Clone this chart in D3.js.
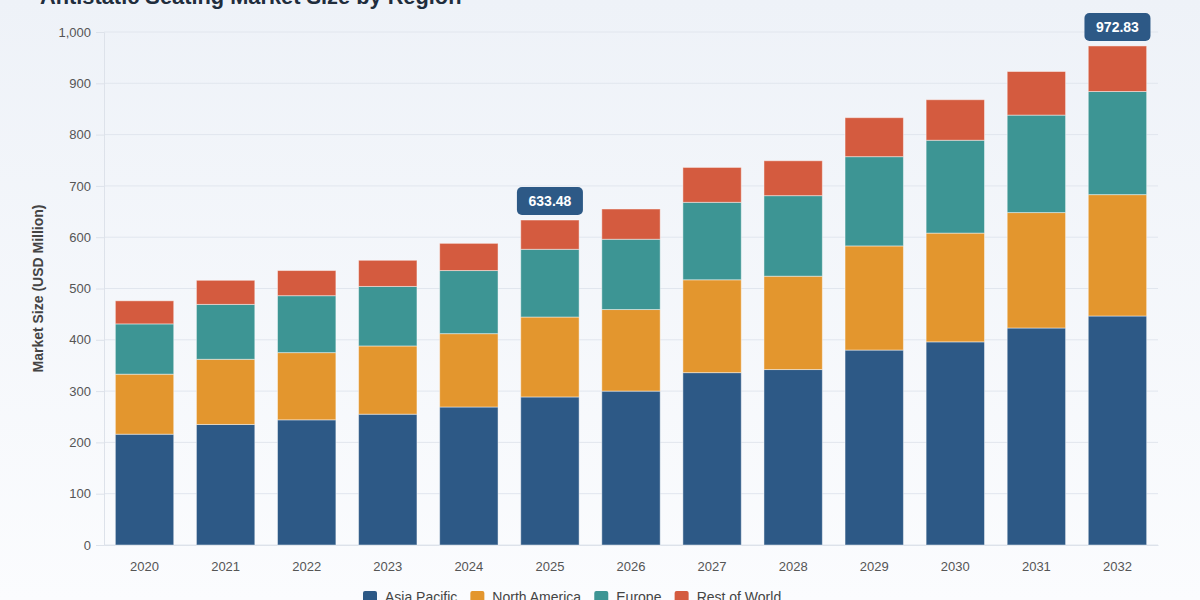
<!DOCTYPE html>
<html>
<head>
<meta charset="utf-8">
<script src="https://cdn.jsdelivr.net/npm/d3@7"></script>
<style>
  html, body { margin: 0; padding: 0; }
  body { width: 1200px; height: 600px; overflow: hidden; font-family: "Liberation Sans", Arial, sans-serif; }
</style>
</head>
<body>
<svg id="chart" width="1200" height="600"></svg>
<script>
// data
const years = ["2020","2021","2022","2023","2024","2025","2026","2027","2028","2029","2030","2031","2032"];
const regions = ["Asia Pacific","North America","Europe","Rest of World"];
const asiaPacific  = [216, 235, 244, 255, 269, 288.6, 300, 336, 342, 380, 396, 423, 446.4];
const northAmerica = [117, 127, 131, 133, 143, 155.8, 159, 181, 182, 203, 212, 225, 236.6];
const europe       = [98, 107, 111, 116, 123, 132.0, 137, 151, 157, 174, 181, 190, 201];
const restOfWorld  = [45, 47, 49, 51, 53, 57.08, 59, 68, 68, 76, 79, 85, 88.83];
const yTicks = [0,100,200,300,400,500,600,700,800,900,1000];
const labelledYears = ["2025","2032"];

const colors = ["#2d5986", "#e3962e", "#3d9594", "#d45b3f"];

const svg = d3.select("#chart");
const W = 1200, H = 600;
const margin = {top: 32, right: 42, bottom: 55, left: 104};

// background
const defs = svg.append("defs");
const grad = defs.append("linearGradient").attr("id","bg").attr("x1",0).attr("y1",0).attr("x2",0).attr("y2",1);
grad.append("stop").attr("offset","0%").attr("stop-color","#eef2f8");
grad.append("stop").attr("offset","100%").attr("stop-color","#fbfcfe");
svg.append("rect").attr("width",W).attr("height",H).attr("fill","url(#bg)");

// stack the series
const table = years.map((y,i) => ({
  year: y,
  "Asia Pacific": asiaPacific[i],
  "North America": northAmerica[i],
  "Europe": europe[i],
  "Rest of World": restOfWorld[i]
}));
const stacked = d3.stack().keys(regions)(table);

const x = d3.scaleBand().domain(years).range([margin.left, W - margin.right]).paddingInner(0.28).paddingOuter(0.14);
const y = d3.scaleLinear().domain([0,1000]).range([H - margin.bottom, margin.top]);

// gridlines
svg.append("g").selectAll("line").data(yTicks).join("line")
  .attr("x1", margin.left).attr("x2", W - margin.right)
  .attr("y1", d => y(d)).attr("y2", d => y(d))
  .attr("stroke", "#e1e6ee").attr("stroke-width", 1);

// y axis
const yAxis = svg.append("g").attr("transform", `translate(${margin.left},0)`)
  .call(d3.axisLeft(y).tickValues(yTicks).tickFormat(d3.format(",")).tickSize(8).tickPadding(5));
yAxis.select(".domain").attr("stroke","#dde2ea");
yAxis.selectAll(".tick line").attr("stroke","#dde2ea");
yAxis.selectAll("text").attr("fill","#555").style("font-size","13px").style("font-family","Liberation Sans, Arial, sans-serif");

// x axis
const xAxis = svg.append("g").attr("transform", `translate(0,${H - margin.bottom})`)
  .call(d3.axisBottom(x).tickSize(0).tickPadding(17));
xAxis.select(".domain").attr("stroke","#dde2ea");
xAxis.selectAll("text").attr("fill","#555").style("font-size","13px").style("font-family","Liberation Sans, Arial, sans-serif");

// bars
svg.append("g").selectAll("g").data(stacked).join("g")
  .attr("fill", (d,i) => colors[i])
  .selectAll("rect").data(d => d).join("rect")
  .attr("x", d => x(d.data.year))
  .attr("width", x.bandwidth())
  .attr("y", d => y(d[1]))
  .attr("height", d => y(d[0]) - y(d[1]))
  .attr("stroke", "rgba(255,255,255,0.45)")
  .attr("stroke-width", 1);

// total labels
const totals = years.map((yr,i) => ({year: yr, total: asiaPacific[i] + northAmerica[i] + europe[i] + restOfWorld[i]}))
  .filter(d => labelledYears.includes(d.year));
const lab = svg.append("g").selectAll("g").data(totals).join("g")
  .attr("transform", d => `translate(${x(d.year) + x.bandwidth()/2},${y(d.total) - 19})`);
lab.append("rect")
  .attr("x", -33).attr("y", -14).attr("width", 66).attr("height", 28).attr("rx", 5)
  .attr("fill", "#2d5986");
lab.append("text")
  .attr("text-anchor","middle").attr("dy","0.36em")
  .attr("fill","#fff").style("font-size","14px").style("font-weight","bold")
  .text(d => d.total.toFixed(2));

// y axis title
svg.append("text")
  .attr("transform", `translate(43,${(margin.top + H - margin.bottom)/2}) rotate(-90)`)
  .attr("text-anchor","middle")
  .attr("fill","#444").style("font-size","14px").style("font-weight","bold")
  .text("Market Size (USD Million)");

// title (partly off the top, as in the reference)
svg.append("text")
  .attr("x", 40).attr("y", 4)
  .attr("fill","#1f2d3d").style("font-size","21.8px").style("font-weight","bold")
  .text("Antistatic Seating Market Size by Region");

// legend (sits low, partly cut, as in the reference)
const legendItems = regions.map((r,i) => ({name: r, color: colors[i]}));
const legend = svg.append("g");
let lx = 0;
const itemG = legend.selectAll("g").data(legendItems).join("g");
itemG.append("rect").attr("width",14).attr("height",14).attr("y",-11).attr("rx",2).attr("fill", d => d.color);
itemG.append("text").attr("x",22).attr("y",0).attr("fill","#444").style("font-size","14px").text(d => d.name);
itemG.each(function() {
  d3.select(this).attr("transform", `translate(${lx},0)`);
  lx += this.getBBox().width + 13;
});
legend.attr("transform", "translate(363,602)");
</script>
</body>
</html>
